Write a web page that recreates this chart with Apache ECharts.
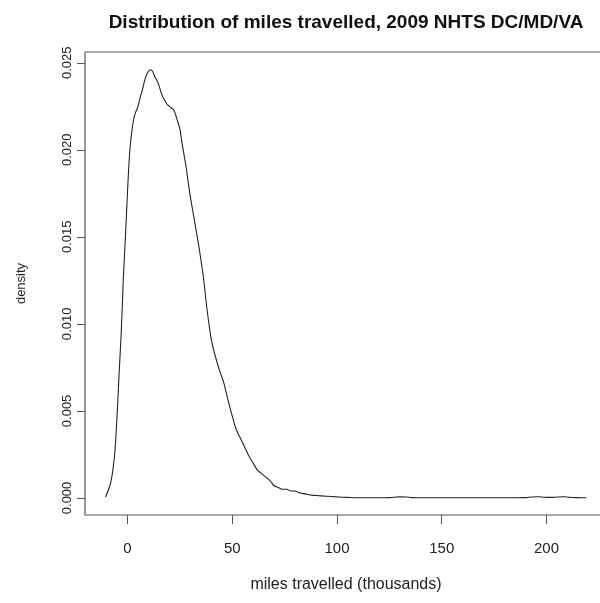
<!DOCTYPE html>
<html>
<head>
<meta charset="utf-8">
<script src="https://cdn.jsdelivr.net/npm/echarts@6/dist/echarts.min.js"></script>
<style>
html,body{margin:0;padding:0;background:#fff;overflow:hidden;width:600px;height:603px;}
#chart{width:608px;height:603px;}
</style>
</head>
<body>
<div id="chart"></div>
<script>
var titleText = 'Distribution of miles travelled, 2009 NHTS DC/MD/VA';
var xAxisTitle = 'miles travelled (thousands)';
var yAxisTitle = 'density';
var xTicks = [0, 50, 100, 150, 200];
var yTicks = [0, 0.005, 0.010, 0.015, 0.020, 0.025];
var yTickLabels = ['0.000', '0.005', '0.010', '0.015', '0.020', '0.025'];

var miles = [-10.5, -10, -9, -8, -7, -6, -5, -4, -3, -2, -1, 0, 1, 2, 3, 4, 5, 6, 7, 8, 9, 10, 11, 12, 13, 14, 15, 16, 17, 18, 19, 20, 21, 22, 23, 24, 25, 26, 27, 28, 29, 30, 31, 32, 33, 34, 35, 36, 38, 40, 42, 44, 46, 48, 50, 52, 54, 56, 58, 60, 62, 64, 66, 68, 70, 72, 74, 76, 78, 80, 82, 84, 86, 88, 90, 95, 100, 105, 110, 120, 125, 130, 133, 136, 140, 150, 160, 170, 180, 190, 193, 196, 199, 202, 205, 208, 211, 214, 219];
var density = [0.00005, 0.0002, 0.0005, 0.0009, 0.0016, 0.0027, 0.0047, 0.0072, 0.0095, 0.0126, 0.0150, 0.0176, 0.0198, 0.0210, 0.0218, 0.0222, 0.0225, 0.0230, 0.0234, 0.0239, 0.0243, 0.0245, 0.0246, 0.0245, 0.0242, 0.0240, 0.0237, 0.0233, 0.0230, 0.0228, 0.0226, 0.0225, 0.0224, 0.0223, 0.0220, 0.0216, 0.0212, 0.0204, 0.0197, 0.0190, 0.0181, 0.0173, 0.0166, 0.0159, 0.0152, 0.0145, 0.0137, 0.0129, 0.0108, 0.0091, 0.0081, 0.0073, 0.0066, 0.0056, 0.0047, 0.0039, 0.0034, 0.0029, 0.0024, 0.0020, 0.0016, 0.0014, 0.0012, 0.0010, 0.0007, 0.0006, 0.0005, 0.0005, 0.0004, 0.0004, 0.0003, 0.00025, 0.0002, 0.00016, 0.00014, 0.0001, 0.00006, 0.00003, 0.00001, 0.00001, 0.00002, 0.00006, 0.00005, 0.00002, 0.00001, 0.00001, 0.00001, 0.00001, 0.00001, 0.00002, 0.00005, 0.00007, 0.00004, 0.00003, 0.00005, 0.00007, 0.00004, 0.00002, 0.00001];

var points = miles.map(function (m, i) { return [m, density[i]]; });

var chart = echarts.init(document.getElementById('chart'), null, {renderer: 'canvas'});
var FONT = 'Liberation Sans, Arial, Helvetica, sans-serif';
var axisColor = '#555';
chart.setOption({
  animation: false,
  backgroundColor: '#ffffff',
  title: {
    text: titleText,
    left: 341,
    top: 8,
    textAlign: 'center',
    textStyle: {fontFamily: FONT, fontSize: 19, fontWeight: 'bold', color: '#111'}
  },
  grid: {
    left: 85, right: 1, top: 52, bottom: 88,
    show: true, borderColor: axisColor, borderWidth: 1.2, backgroundColor: 'transparent'
  },
  xAxis: {
    type: 'value',
    min: -20.3, max: 228.9,
    name: xAxisTitle,
    nameLocation: 'middle',
    nameGap: 62,
    nameTextStyle: {fontFamily: FONT, fontSize: 16, color: '#222'},
    axisLine: {show: false, onZero: false},
    splitLine: {show: false},
    axisTick: {show: true, length: 9, inside: false, customValues: xTicks, lineStyle: {color: axisColor, width: 1}},
    axisLabel: {show: true, customValues: xTicks, margin: 26, fontFamily: FONT, fontSize: 15, color: '#222'}
  },
  yAxis: {
    type: 'value',
    min: -0.00098, max: 0.02562,
    name: yAxisTitle,
    nameLocation: 'middle',
    nameRotate: 90,
    nameGap: 57,
    nameTextStyle: {fontFamily: FONT, fontSize: 13, color: '#222'},
    axisLine: {show: false, onZero: false},
    splitLine: {show: false},
    axisTick: {show: true, length: 8, inside: false, customValues: yTicks, lineStyle: {color: axisColor, width: 1}},
    axisLabel: {
      show: true, customValues: yTicks, rotate: 90, margin: 11,
      fontFamily: FONT, fontSize: 13, color: '#222',
      formatter: function (v) {
        for (var i = 0; i < yTicks.length; i++) { if (Math.abs(yTicks[i] - v) < 1e-9) return yTickLabels[i]; }
        return '';
      }
    }
  },
  series: [{
    type: 'line',
    data: points,
    showSymbol: false,
    smooth: 0.3,
    lineStyle: {color: '#222', width: 1.1},
    silent: true
  }]
});
</script>
</body>
</html>
